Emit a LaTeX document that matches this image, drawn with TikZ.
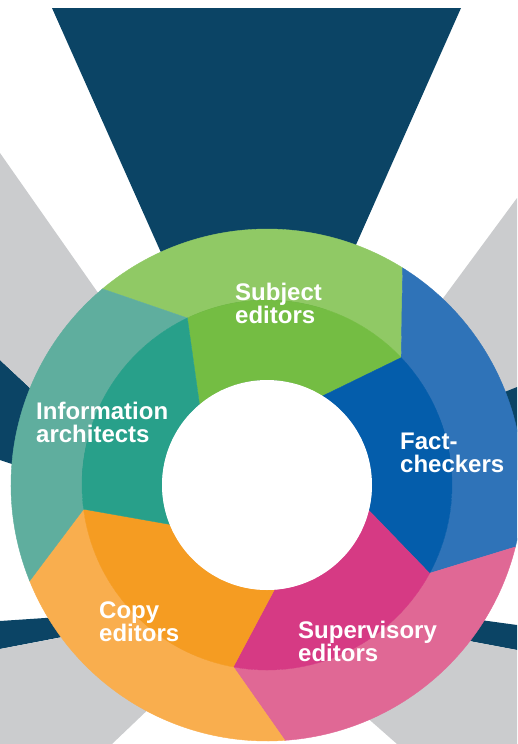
\documentclass[tikz,border=0pt]{standalone}
\usepackage{fontspec}
\setmainfont{Liberation Sans}

\definecolor{raydark}{RGB}{11,68,101}
\definecolor{raygrey}{RGB}{203,204,206}
\definecolor{subjL}{RGB}{144,201,101}
\definecolor{subjD}{RGB}{116,189,67}
\definecolor{factL}{RGB}{47,115,184}
\definecolor{factD}{RGB}{4,93,171}
\definecolor{supL}{RGB}{224,104,149}
\definecolor{supD}{RGB}{214,58,132}
\definecolor{copyL}{RGB}{249,174,78}
\definecolor{copyD}{RGB}{245,156,34}
\definecolor{infoL}{RGB}{95,174,158}
\definecolor{infoD}{RGB}{40,160,138}

\begin{document}
\begin{tikzpicture}[x=1pt, y=-1pt,
    seg label/.style={text=white, font=\bfseries\fontsize{24}{23}\selectfont, align=left, anchor=north west, inner sep=0pt},
    ]
  \def\Rout{256pt}
  \def\Rmid{185pt}
  \def\Rin{105pt}
  \def\off{14.5}

  \useasboundingbox (0,0) rectangle (517,744);
  \clip (0,0) rectangle (517,744);

  % rays behind the ring
  \fill[raydark] (52,8) -- (461,8) -- (257,468) -- cycle;
  \fill[raydark] (0,360) -- (150,500) -- (150,510) -- (0,460) -- cycle;
  \fill[raygrey] (0,153) -- (150,367) -- (150,500) -- (0,360) -- cycle;
  \fill[raydark] (0,621) -- (150,611) -- (150,620) -- (0,649) -- cycle;
  \fill[raygrey] (0,649) -- (170,617) -- (200,660) -- (112,744) -- (0,744) -- cycle;
  \fill[raygrey] (517,198) -- (368,400) -- (368,447) -- (517,387) -- cycle;
  \fill[raydark] (517,387) -- (368,447) -- (368,480) -- (517,480) -- cycle;
  \fill[raydark] (400,609) -- (517,625) -- (517,650) -- (400,628) -- cycle;
  \fill[raygrey] (400,628) -- (517,650) -- (517,744) -- (397,744) -- (330,685) -- cycle;

  % the ring, outer and inner parts
  \begin{scope}[shift={(267,485)}]
    \foreach \a/\lt/\dk in {130/subjL/subjD, 58/factL/factD, -14/supL/supD, -86/copyL/copyD, -158/infoL/infoD} {
      \pgfmathsetmacro\b{\a-72}
      \pgfmathsetmacro\am{\a-\off}
      \pgfmathsetmacro\bm{\b-\off}
      \filldraw[fill=\lt, draw=\lt, line width=0.4pt] (\a:\Rout) arc[start angle=\a, end angle=\b, radius=\Rout]
        -- (\bm:\Rmid) arc[start angle=\bm, end angle=\am, radius=\Rmid] -- cycle;
      \filldraw[fill=\dk, draw=\dk, line width=0.4pt] (\am:\Rmid) arc[start angle=\am, end angle=\bm, radius=\Rmid]
        -- (\b:\Rin) arc[start angle=\b, end angle=\a, radius=\Rin] -- cycle;
    }
    \fill[white] (0,0) circle[radius=\Rin];
  \end{scope}

  \node[seg label] (subj) at (235,283) {Subject\\editors};
  \node[seg label] (fact) at (400,433) {Fact-\\checkers};
  \node[seg label] (sup)  at (298,621) {Supervisory\\editors};
  \node[seg label] (copy) at (99,602)  {Copy\\editors};
  \node[seg label] (info) at (36,402)  {Information\\architects};
\end{tikzpicture}
\end{document}
